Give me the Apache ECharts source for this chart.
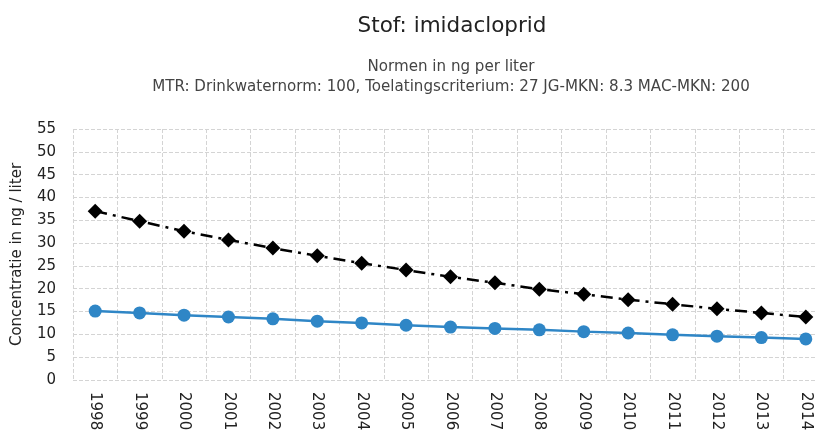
<!DOCTYPE html>
<html>
<head>
<meta charset="utf-8">
<script src="https://cdn.jsdelivr.net/npm/echarts@6/dist/echarts.min.js"></script>
<style>
    html, body { margin: 0; padding: 0; background: #fff; }
    #chart { width: 815px; height: 431px; }
</style>
</head>
<body>
<div id="chart"></div>
<script>
    // data
    var years = ['1998', '1999', '2000', '2001', '2002', '2003', '2004', '2005', '2006',
                 '2007', '2008', '2009', '2010', '2011', '2012', '2013', '2014']
    var blueValues = [15.1, 14.7, 14.2, 13.8, 13.4, 12.9, 12.5, 12.0, 11.6,
                      11.3, 11.0, 10.6, 10.3, 9.9, 9.6, 9.3, 9.0]
    var blackValues = [37.0, 34.8, 32.6, 30.7, 28.9, 27.2, 25.6, 24.1, 22.6,
                       21.3, 19.9, 18.8, 17.6, 16.6, 15.6, 14.7, 13.8]

    var font = 'DejaVu Sans'
    var myChart = echarts.init(document.getElementById('chart'))
    myChart.setOption({
        animation: false,
        backgroundColor: '#fff',
        title: [
            {
                text: 'Stof: imidacloprid',
                left: 447, top: 10, textAlign: 'center',
                textStyle: {fontFamily: font, fontSize: 21.5, fontWeight: 'normal', color: '#222'}
            },
            {
                text: 'Normen in ng per liter\nMTR: Drinkwaternorm: 100, Toelatingscriterium: 27 JG-MKN: 8.3 MAC-MKN: 200',
                left: 446, top: 52, textAlign: 'center',
                textStyle: {fontFamily: font, fontSize: 15.1, fontWeight: 'normal', color: '#444', lineHeight: 20}
            }
        ],
        // the plot runs past the right edge of the picture, as in the original
        grid: {left: 73, width: 755, top: 129, bottom: 51, containLabel: false, outerBoundsMode: 'none'},
        xAxis: {
            type: 'category',
            data: years,
            boundaryGap: true,
            axisLine: {show: false},
            axisTick: {show: false},
            axisLabel: {rotate: -90, fontFamily: font, fontSize: 15, color: '#222', margin: 12},
            splitLine: {show: true, interval: 0, lineStyle: {color: '#d4d4d4', type: 'dashed'}}
        },
        yAxis: {
            type: 'value',
            min: 0, max: 55, interval: 5,
            name: 'Concentratie in ng / liter',
            nameLocation: 'middle',
            nameGap: 48,
            nameTextStyle: {fontFamily: font, fontSize: 15, color: '#222'},
            axisLine: {show: false},
            axisTick: {show: false},
            axisLabel: {fontFamily: font, fontSize: 15, color: '#222', margin: 17},
            splitLine: {lineStyle: {color: '#d4d4d4', type: 'dashed'}}
        },
        series: [
            {
                name: 'blue',
                type: 'line',
                data: blueValues,
                symbol: 'circle',
                symbolSize: 13,
                itemStyle: {color: '#2f86c6'},
                lineStyle: {color: '#2f86c6', width: 2.5}
            },
            {
                name: 'black',
                type: 'line',
                data: blackValues,
                symbol: 'diamond',
                symbolSize: 15,
                itemStyle: {color: '#000'},
                lineStyle: {color: '#000', width: 2.5, type: [12, 6, 3, 6]}
            }
        ]
    })
</script>
</body>
</html>
